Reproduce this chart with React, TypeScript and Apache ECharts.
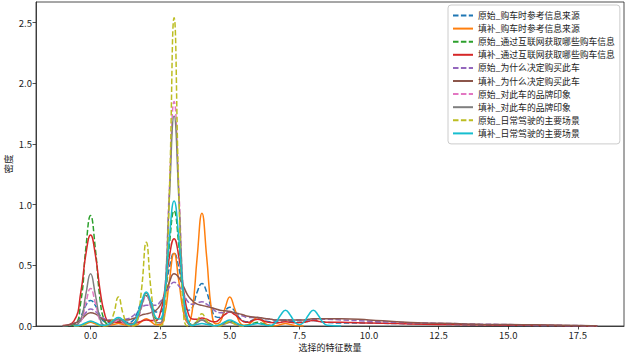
import React, { useEffect, useRef } from "react";
import * as echarts from "echarts";

const XS = [-1, -0.6,
  -0.35, -0.17, 0, 0.17, 0.35, 0.5,
  0.65, 0.83, 1, 1.17, 1.35, 1.5,
  1.65, 1.83, 2, 2.17, 2.35, 2.5,
  2.65, 2.83, 3, 3.17, 3.35, 3.5,
  3.65, 3.83, 4, 4.17, 4.35, 4.5,
  4.65, 4.83, 5, 5.17, 5.35, 5.5,
  5.65, 5.83, 6, 6.17, 6.35, 6.5,
  6.65, 6.83, 7, 7.17, 7.35, 7.5,
  7.65, 7.83, 8, 8.17, 8.35, 8.5,
  9, 10, 11, 12, 13, 14, 15, 16, 17, 18, 18.2];

const N = null;

const rawSource1 = [0, 0.01,
  0.08, 0.17, 0.21, 0.17, 0.08, 0.035,
  0.03, 0.04, 0.05, 0.045, 0.03, 0.04,
  0.095, 0.2, 0.25, 0.2, 0.115, 0.115,
  0.234, 0.48, 0.6, 0.48, 0.24, 0.13,
  0.15, 0.28, 0.35, 0.28, 0.14, 0.075,
  0.07, 0.125, 0.155, 0.125, 0.065, 0.04,
  0.035, 0.05, 0.06, 0.05, 0.038, 0.033,
  0.032, 0.04, 0.045, 0.04, 0.033, 0.03,
  0.032, 0.04, 0.045, 0.04, 0.035, 0.03,
  0.025, 0.025, 0.02, 0.018, 0.012, 0.008, 0.005, 0.003, 0.002, 0.001, 0];

const fillSource1 = [N, 0,
  0.004, 0.018, 0.03, 0.018, 0.006, 0.003,
  0.004, 0.012, 0.02, 0.012, 0.004, 0.003,
  0.008, 0.037, 0.06, 0.037, 0.01, 0.012,
  0.075, 0.37, 0.6, 0.37, 0.1, 0.025,
  0.12, 0.57, 0.93, 0.57, 0.115, 0.018,
  0.032, 0.146, 0.24, 0.146, 0.032, 0.006,
  0.01, 0.043, 0.07, 0.043, 0.01, 0.003,
  0.003, 0.012, 0.02, 0.012, 0.003, 0.001,
  0, N, N, N, N, N,
  N, N, N, N, N, N, N, N, N, N, N];

const rawInternet = [0, 0.01,
  0.2, 0.64, 0.91, 0.64, 0.2, 0.045,
  0.014, 0.028, 0.04, 0.028, 0.012, 0.015,
  0.055, 0.175, 0.25, 0.175, 0.06, 0.055,
  0.21, 0.665, 0.95, 0.665, 0.21, 0.045,
  0.012, 0.035, 0.05, 0.035, 0.012, 0.004,
  0.009, 0.028, 0.04, 0.028, 0.009, 0.003,
  0.007, 0.021, 0.03, 0.021, 0.007, 0.001,
  0, N, N, N, N, N,
  N, N, N, N, N, N,
  N, N, N, N, N, N, N, N, N, N, N];

const fillInternet = [0.005, 0.04,
  0.28, 0.59, 0.75, 0.59, 0.28, 0.105,
  0.037, 0.03, 0.03, 0.026, 0.02, 0.02,
  0.025, 0.04, 0.05, 0.045, 0.045, 0.104,
  0.272, 0.57, 0.72, 0.57, 0.28, 0.11,
  0.058, 0.055, 0.065, 0.055, 0.037, 0.035,
  0.06, 0.095, 0.115, 0.095, 0.06, 0.035,
  0.03, 0.045, 0.055, 0.045, 0.032, 0.028,
  0.025, 0.03, 0.035, 0.03, 0.027, 0.028,
  0.03, 0.04, 0.045, 0.04, 0.032, 0.03,
  0.03, 0.025, 0.02, 0.015, 0.012, 0.01, 0.007, 0.005, 0.003, 0.001, 0];

const rawReason = [0, 0.02,
  0.06, 0.11, 0.14, 0.12, 0.08, 0.06,
  0.05, 0.05, 0.05, 0.055, 0.06, 0.08,
  0.11, 0.15, 0.17, 0.17, 0.17, 0.2,
  0.25, 0.32, 0.36, 0.33, 0.26, 0.2,
  0.18, 0.19, 0.2, 0.18, 0.15, 0.12,
  0.11, 0.11, 0.12, 0.11, 0.09, 0.08,
  0.07, 0.07, 0.07, 0.065, 0.06, 0.055,
  0.05, 0.05, 0.05, 0.05, 0.05, 0.05,
  0.05, 0.05, 0.055, 0.055, 0.055, 0.055,
  0.05, 0.04, 0.03, 0.025, 0.02, 0.015, 0.012, 0.008, 0.005, 0.002, 0];

const fillReason = [0, 0.02,
  0.05, 0.09, 0.11, 0.1, 0.07, 0.05,
  0.045, 0.045, 0.05, 0.05, 0.05, 0.06,
  0.07, 0.09, 0.1, 0.11, 0.13, 0.17,
  0.25, 0.36, 0.43, 0.4, 0.32, 0.25,
  0.21, 0.18, 0.17, 0.16, 0.15, 0.14,
  0.13, 0.125, 0.12, 0.11, 0.1, 0.09,
  0.08, 0.075, 0.07, 0.065, 0.06, 0.055,
  0.05, 0.05, 0.05, 0.05, 0.05, 0.05,
  0.05, 0.055, 0.06, 0.06, 0.06, 0.06,
  0.06, 0.05, 0.035, 0.025, 0.02, 0.015, 0.012, 0.01, 0.006, 0.002, 0];

const rawBrand = [N, 0,
  0.037, 0.19, 0.31, 0.19, 0.037, 0.005,
  0.006, 0.03, 0.05, 0.03, 0.006, 0.004,
  0.03, 0.15, 0.25, 0.15, 0.03, 0.027,
  0.22, 1.13, 1.85, 1.13, 0.22, 0.025,
  0.006, 0.03, 0.05, 0.03, 0.006, 0.001,
  0.004, 0.018, 0.03, 0.018, 0.004, 0,
  N, N, N, N, N, N,
  N, N, N, N, N, N,
  N, N, N, N, N, N,
  N, N, N, N, N, N, N, N, N, N, N];

const fillBrand = [N, 0,
  0.052, 0.26, 0.43, 0.26, 0.052, 0.006,
  0.007, 0.037, 0.06, 0.037, 0.007, 0.004,
  0.032, 0.165, 0.27, 0.165, 0.032, 0.026,
  0.21, 1.055, 1.73, 1.055, 0.21, 0.023,
  0.006, 0.03, 0.05, 0.03, 0.006, 0.001,
  0.004, 0.018, 0.03, 0.018, 0.004, 0,
  N, N, N, N, N, N,
  N, N, N, N, N, N,
  N, N, N, N, N, N,
  N, N, N, N, N, N, N, N, N, N, N];

const rawScene = [N, 0,
  0.001, 0.017, 0.04, 0.017, 0.001, 0,
  0.006, 0.1, 0.24, 0.1, 0.006, 0,
  0.019, 0.3, 0.69, 0.3, 0.019, 0,
  0.069, 1.09, 2.54, 1.09, 0.069, 0,
  0.003, 0.043, 0.1, 0.043, 0.003, 0,
  0.001, 0.017, 0.04, 0.017, 0.001, 0,
  N, N, N, N, N, N,
  N, N, N, N, N, N,
  N, N, N, N, N, N,
  N, N, N, N, N, N, N, N, N, N, N];

const fillScene = [N, 0,
  0.009, 0.028, 0.04, 0.028, 0.009, 0.005,
  0.016, 0.049, 0.07, 0.049, 0.017, 0.015,
  0.062, 0.196, 0.28, 0.196, 0.067, 0.058,
  0.227, 0.72, 1.03, 0.72, 0.227, 0.046,
  0.005, 0.014, 0.02, 0.014, 0.005, 0.003,
  0.011, 0.035, 0.05, 0.035, 0.011, 0.003,
  0.004, 0.014, 0.02, 0.014, 0.005, 0.007,
  0.029, 0.091, 0.13, 0.091, 0.029, 0.011,
  0.029, 0.091, 0.13, 0.091, 0.029, 0.006,
  0, N, N, N, N, N, N, N, N, N, N];

const SERIES_NAMES = [
  "原始_购车时参考信息来源",
  "填补_购车时参考信息来源",
  "原始_通过互联网获取哪些购车信息",
  "填补_通过互联网获取哪些购车信息",
  "原始_为什么决定购买此车",
  "填补_为什么决定购买此车",
  "原始_对此车的品牌印象",
  "填补_对此车的品牌印象",
  "原始_日常驾驶的主要场景",
  "填补_日常驾驶的主要场景",
];
const SERIES_VALUES = [
  rawSource1, fillSource1, rawInternet, fillInternet, rawReason,
  fillReason, rawBrand, fillBrand, rawScene, fillScene,
];
const COLORS = [
  "#1f77b4", "#ff7f0e", "#2ca02c", "#d62728", "#9467bd",
  "#8c564b", "#e377c2", "#7f7f7f", "#bcbd22", "#17becf",
];
const X_TICKS = [0, 2.5, 5, 7.5, 10, 12.5, 15, 17.5];
const Y_TICKS = [0, 0.5, 1, 1.5, 2, 2.5];
const X_NAME = "选择的特征数量";
const Y_NAME = "密度";

const FONT = "'Noto Sans CJK SC', 'DejaVu Sans', sans-serif";

export default function App() {
  const ref = useRef<HTMLDivElement>(null);
  useEffect(() => {
    if (!ref.current) return;
    const chart = echarts.init(ref.current, null, { renderer: "svg" });
    const series = SERIES_NAMES.map((name, i) => {
      const dashed = i % 2 === 0;
      const data = XS.map((x, j) => [x, SERIES_VALUES[i][j]]).filter(
        (p) => p[1] !== null && p[1] !== undefined
      );
      return {
        name,
        type: "line",
        data,
        smooth: 0.5,
        showSymbol: false,
        symbol: "none",
        color: COLORS[i],
        itemStyle: { color: COLORS[i], opacity: 0 },
        lineStyle: {
          color: COLORS[i],
          width: 1.5,
          type: dashed ? [5.5, 2.4] : "solid",
        },
      };
    });
    chart.setOption({
      animation: false,
      backgroundColor: "#ffffff",
      textStyle: { fontFamily: FONT },
      grid: {
        left: 36,
        right: 4,
        top: 2,
        bottom: 27,
        show: true,
        borderColor: "#222",
        borderWidth: 0.8,
        containLabel: false,
        outerBoundsContain: "axisLabel",
      },
      legend: {
        orient: "vertical",
        left: 448,
        top: 5,
        padding: [5, 5, 5, 4],
        backgroundColor: "rgba(255,255,255,0.8)",
        borderColor: "#cccccc",
        borderWidth: 1,
        borderRadius: 3,
        itemWidth: 20,
        itemHeight: 11,
        itemGap: 2.1,
        itemStyle: { opacity: 0 },
        textStyle: { fontSize: 8.8, color: "#222", fontFamily: FONT, lineHeight: 11 },
        data: SERIES_NAMES,
      },
      xAxis: {
        type: "value",
        min: -1.96,
        max: 19.16,
        axisLine: { show: true, onZero: false, lineStyle: { color: "#222", width: 0.8 } },
        axisTick: {
          show: true,
          length: 3.5,
          lineStyle: { color: "#222", width: 0.8 },
          customValues: X_TICKS,
        },
        axisLabel: { show: false },
        splitLine: { show: false },
      },
      yAxis: {
        type: "value",
        min: 0,
        max: 2.67,
        axisLine: { show: true, onZero: false, lineStyle: { color: "#222", width: 0.8 } },
        axisTick: {
          show: true,
          length: 3.5,
          lineStyle: { color: "#222", width: 0.8 },
          customValues: Y_TICKS,
        },
        axisLabel: {
          fontSize: 9.5,
          color: "#222",
          margin: 4,
          fontFamily: FONT,
          customValues: Y_TICKS,
          formatter: (v: number) => v.toFixed(1),
        },
        splitLine: { show: false },
      },
      series,
    });

    const graphic: any[] = X_TICKS.map((v) => {
      const p = chart.convertToPixel({ gridIndex: 0 }, [v, 0]) as number[];
      return {
        type: "text",
        x: p[0],
        y: p[1] + 4,
        silent: true,
        style: {
          text: v.toFixed(1),
          fontSize: 9.5,
          fontFamily: FONT,
          fill: "#222",
          align: "center",
          verticalAlign: "top",
        },
      };
    });
    const left = chart.convertToPixel({ gridIndex: 0 }, [-1.96, 1.335]) as number[];
    const mid = chart.convertToPixel({ gridIndex: 0 }, [8.6, 0]) as number[];
    graphic.push({
      type: "text",
      x: mid[0],
      y: mid[1] + 21.5,
      silent: true,
      style: {
        text: X_NAME,
        fontSize: 9,
        fontFamily: FONT,
        fill: "#222",
        align: "center",
        verticalAlign: "middle",
      },
    });
    graphic.push({
      type: "text",
      x: left[0] - 28,
      y: left[1],
      rotation: Math.PI / 2,
      silent: true,
      style: {
        text: Y_NAME,
        fontSize: 9.5,
        fontFamily: FONT,
        fill: "#222",
        align: "center",
        verticalAlign: "middle",
      },
    });
    chart.setOption({ graphic });
    return () => chart.dispose();
  }, []);
  return (
    <div
      ref={ref}
      style={{ position: "fixed", left: 0, top: 0, width: 628, height: 353, background: "#fff" }}
    />
  );
}
